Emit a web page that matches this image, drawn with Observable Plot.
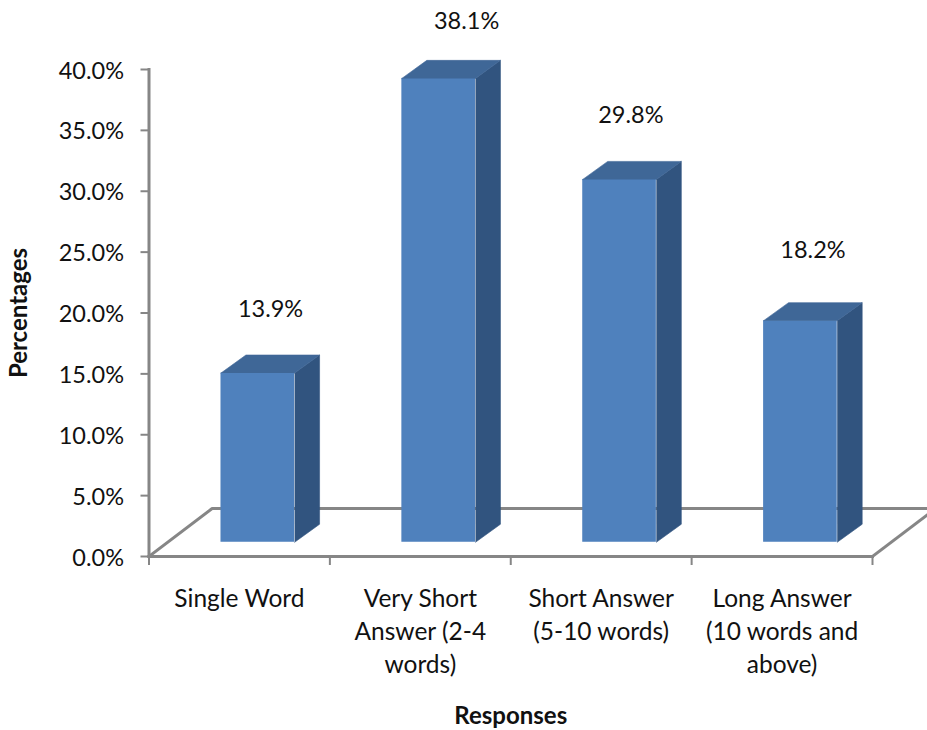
<!DOCTYPE html>
<html>
<head>
<meta charset="utf-8">
<script src="https://cdn.jsdelivr.net/npm/d3@7"></script>
<script src="https://cdn.jsdelivr.net/npm/@observablehq/plot@0.6"></script>
<style>
  html, body { margin: 0; padding: 0; background: #fff; overflow: hidden; }
  svg { display: block; }
</style>
</head>
<body>
<div id="chart"></div>
<script>
// Share of responses by answer length
const categories = [
  "Single Word",
  "Very Short\nAnswer (2-4\nwords)",
  "Short Answer\n(5-10 words)",
  "Long Answer\n(10 words and\nabove)"
];
const values = [13.9, 38.1, 29.8, 18.2];
const yTicks = [0, 5, 10, 15, 20, 25, 30, 35, 40];

// Pseudo-3D geometry, in data units of the two scales
const floorDepth = {x: 0.349, y: 3.94};
const barDepth = {x: 0.138, y: 1.48};
const barLift = 1.17;
const barSpan = [0.398, 0.805];
const xEnd = 4.36;

// Hand placement of the value labels relative to each bar's top edge
const labelShift = [{x: 0.672, y: 5.2}, {x: 0.756, y: 4.7}, {x: 0.664, y: 5.25}, {x: 0.671, y: 5.8}];

const colors = {front: "#4f81bd", top: "#3f6797", side: "#31547f", axis: "#868686", ink: "#111"};

const bars = values.map((value, i) => ({
  i, value,
  x1: i + barSpan[0],
  x2: i + barSpan[1],
  y1: barLift,
  y2: barLift + value
}));

const topFace = bars.flatMap(b => [
  {id: b.i, x: b.x1, y: b.y2},
  {id: b.i, x: b.x1 + barDepth.x, y: b.y2 + barDepth.y},
  {id: b.i, x: b.x2 + barDepth.x, y: b.y2 + barDepth.y},
  {id: b.i, x: b.x2, y: b.y2}
]);
const sideFace = bars.flatMap(b => [
  {id: b.i, x: b.x2, y: b.y1},
  {id: b.i, x: b.x2 + barDepth.x, y: b.y1 + barDepth.y},
  {id: b.i, x: b.x2 + barDepth.x, y: b.y2 + barDepth.y},
  {id: b.i, x: b.x2, y: b.y2}
]);
const floorEdges = [
  {id: "left", x: 0, y: 0},
  {id: "left", x: floorDepth.x, y: floorDepth.y},
  {id: "left", x: xEnd, y: floorDepth.y},
  {id: "right", x: 4, y: 0},
  {id: "right", x: 4 + floorDepth.x, y: floorDepth.y},
  {id: "front", x: 0, y: 0},
  {id: "front", x: 4, y: 0},
  {id: "wall", x: 0, y: 0},
  {id: "wall", x: 0, y: 40}
];

const font = "Lato, Carlito, sans-serif";

const chart = Plot.plot({
  width: 927,
  height: 730,
  marginLeft: 148.5,
  marginRight: 55,
  marginTop: 69,
  marginBottom: 174,
  style: {fontFamily: font, background: "#fff", overflow: "hidden"},
  x: {domain: [0, 4], axis: null},
  y: {domain: [0, 40], axis: null},
  marks: [
    Plot.line(floorEdges, {x: "x", y: "y", z: "id", stroke: colors.axis, strokeWidth: 3, strokeLinejoin: "miter", strokeLinecap: "square"}),
    // tick strokes and tick text are separate so the text can sit just under each tick
    Plot.axisY({ticks: yTicks, tickFormat: () => "", tickSize: 8, stroke: colors.axis, strokeWidth: 2, label: null}),
    Plot.axisY({
      ticks: yTicks, tickFormat: d => d.toFixed(1) + "%", tickSize: 0, tickPadding: 25, dy: 1.5,
      fill: colors.ink, fontSize: 23.5, label: null
    }),
    Plot.axisX({
      ticks: [0, 1, 2, 3, 4], tickFormat: () => "", tickSize: 9,
      stroke: colors.axis, strokeWidth: 2, label: null
    }),
    Plot.rect(bars, {x1: "x1", x2: "x2", y1: "y1", y2: "y2", fill: colors.front, inset: 0}),
    Plot.line(sideFace, {x: "x", y: "y", z: "id", fill: colors.side, stroke: colors.side, strokeWidth: 0.6}),
    Plot.line(topFace, {x: "x", y: "y", z: "id", fill: colors.top, stroke: colors.top, strokeWidth: 0.6}),
    // value labels
    Plot.text(bars, {
      x: b => b.i + labelShift[b.i].x,
      y: b => b.y2 + labelShift[b.i].y,
      text: b => b.value.toFixed(1) + "%",
      fontSize: 23.5, fill: colors.ink
    }),
    // category labels, wrapped on explicit line breaks
    Plot.text(categories, {
      x: (d, i) => i + 0.5,
      y: 0,
      text: d => d,
      dy: 27,
      lineAnchor: "top",
      lineHeight: 1.35,
      fontSize: 24.5,
      fill: colors.ink
    }),
    Plot.text(["Responses"], {x: 2, y: -13.14, text: d => d, fontSize: 24, fontWeight: "bold", fill: colors.ink}),
    Plot.text(["Percentages"], {frameAnchor: "left", dx: -130, y: 20, text: d => d, rotate: -90, textAnchor: "middle", fontSize: 24, fontWeight: "bold", fill: colors.ink})
  ]
});
document.getElementById("chart").appendChild(chart);
</script>
</body>
</html>
